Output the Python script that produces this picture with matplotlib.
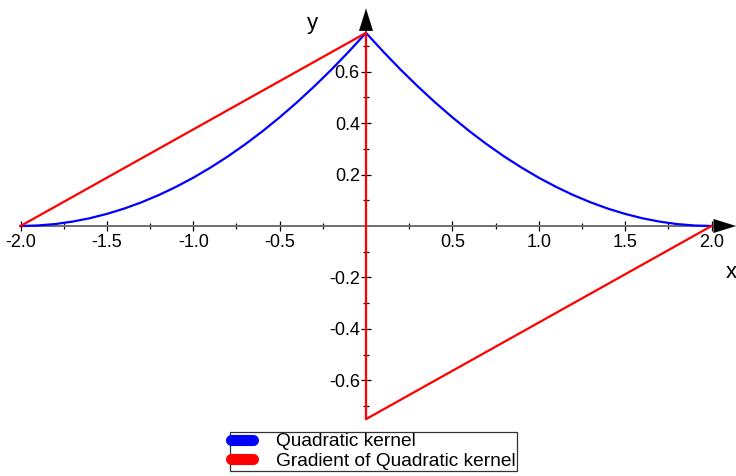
import matplotlib
matplotlib.use("Agg")
import matplotlib.pyplot as plt
from matplotlib.lines import Line2D
from matplotlib.ticker import FixedLocator

plt.rcParams['font.family'] = ['Liberation Sans', 'DejaVu Sans']

# Quadratic kernel values
kernel_x = [-2.0, -1.9, -1.8, -1.7, -1.6, -1.5, -1.4, -1.3, -1.2, -1.1, -1.0,
            -0.9, -0.8, -0.7, -0.6, -0.5, -0.4, -0.3, -0.2, -0.1, 0.0,
            0.1, 0.2, 0.3, 0.4, 0.5, 0.6, 0.7, 0.8, 0.9, 1.0,
            1.1, 1.2, 1.3, 1.4, 1.5, 1.6, 1.7, 1.8, 1.9, 2.0]
kernel_y = [0.0, 0.002, 0.0075, 0.017, 0.03, 0.047, 0.0675, 0.092, 0.12, 0.152, 0.1875,
            0.227, 0.27, 0.317, 0.3675, 0.422, 0.48, 0.542, 0.6075, 0.677, 0.75,
            0.677, 0.6075, 0.542, 0.48, 0.422, 0.3675, 0.317, 0.27, 0.227, 0.1875,
            0.152, 0.12, 0.092, 0.0675, 0.047, 0.03, 0.017, 0.0075, 0.002, 0.0]

# Gradient of quadratic kernel
grad_x = [-2.0, 0.0, 0.0, 2.0]
grad_y = [0.0, 0.75, -0.75, 0.0]

x_major = [-2.0, -1.5, -1.0, -0.5, 0.5, 1.0, 1.5, 2.0]
x_minor = [-1.75, -1.25, -0.75, -0.25, 0.25, 0.75, 1.25, 1.75]
y_major = [-0.6, -0.4, -0.2, 0.2, 0.4, 0.6]
y_minor = [-0.7, -0.5, -0.3, -0.1, 0.1, 0.3, 0.5, 0.7]

labels = ["Quadratic kernel", "Gradient of Quadratic kernel"]
colors = ["#0000ff", "#ff0000"]

fig = plt.figure(figsize=(7.36, 4.76), dpi=100)
ax = fig.add_axes([0, 0, 1, 1])
ax.set_xlim(-2.1187, 2.1418)
ax.set_ylim(-0.9709, 0.8777)
ax.patch.set_alpha(0)

ax.plot(kernel_x, kernel_y, color=colors[0], lw=1.6, zorder=3)
ax.plot(grad_x, grad_y, color=colors[1], lw=1.6, zorder=4)

for s in ['top', 'right']:
    ax.spines[s].set_visible(False)
for s in ['left', 'bottom']:
    ax.spines[s].set_position(('data', 0))
    ax.spines[s].set_color('#6e6e6e')
    ax.spines[s].set_linewidth(1.4)
ax.spines['left'].set_bounds(-0.75, 0.78)
ax.spines['bottom'].set_bounds(-2.0, 2.05)

ax.xaxis.set_major_locator(FixedLocator(x_major))
ax.xaxis.set_minor_locator(FixedLocator(x_minor))
ax.yaxis.set_major_locator(FixedLocator(y_major))
ax.yaxis.set_minor_locator(FixedLocator(y_minor))
ax.set_xticklabels([f"{v:.1f}" for v in x_major])
ax.set_yticklabels([f"{v:.1f}" for v in y_major])
ax.tick_params(which='major', direction='inout', length=7, width=0.9, color='black',
               labelsize=13)
ax.tick_params(which='minor', direction='inout', length=4.5, width=0.9, color='black')
ax.tick_params(axis='x', which='major', pad=2)
ax.tick_params(axis='y', which='major', pad=1)

# axis arrows
ax.annotate('', xy=(2.1418, 0), xytext=(2.055, 0),
            arrowprops=dict(arrowstyle='-|>,head_length=1.6,head_width=0.5',
                            color='black', lw=0.1, shrinkA=0, shrinkB=0),
            annotation_clip=False)
ax.annotate('', xy=(0, 0.845), xytext=(0, 0.75),
            arrowprops=dict(arrowstyle='-|>,head_length=1.6,head_width=0.5',
                            color='black', lw=0.1, shrinkA=0, shrinkB=0),
            annotation_clip=False)

fig.text(312 / 736, 1 - 23 / 476, 'y', fontsize=16, ha='center', va='center')
fig.text(731 / 736, 1 - 272 / 476, 'x', fontsize=16, ha='center', va='center')

handles = [Line2D([], [], color=c, lw=8, solid_capstyle='round') for c in colors]
leg = fig.legend(handles, labels, loc='upper left',
                 bbox_to_anchor=(230 / 736, 1 - 432 / 476), fontsize=13.8,
                 frameon=True, fancybox=False, edgecolor='black',
                 handlelength=1.15, handletextpad=1.2, borderpad=0.05,
                 labelspacing=0.1, borderaxespad=0)
leg.get_frame().set_linewidth(0.9)

fig.savefig('out.png', dpi=100)
